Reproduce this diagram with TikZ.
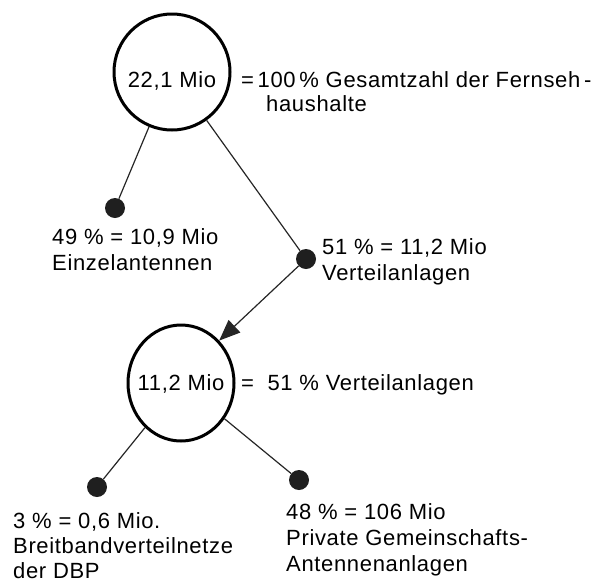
\documentclass[tikz,border=0pt]{standalone}
\usepackage{fontspec}
\setmainfont[LetterSpace=3]{Liberation Sans}
\usetikzlibrary{arrows.meta,shapes.geometric}
\begin{document}
\begin{tikzpicture}[x=1pt,y=-1pt,
  font=\fontsize{22}{26}\selectfont,
  bigring/.style={draw, line width=3pt, circle, minimum size=116pt, inner sep=0pt},
  bigoval/.style={draw, line width=3pt, ellipse, minimum width=106pt, minimum height=116pt, inner sep=0pt},
  blob/.style={fill=black!88, circle, minimum size=20pt, inner sep=0pt},
  conn/.style={line width=1.2pt, black!85},
  lbl/.style={anchor=base west, inner sep=0pt, align=left}]
\useasboundingbox (0,0) rectangle (607,584);
% top circle
\node[bigring] (c1) at (172,72) {};
\node[inner sep=0pt, anchor=base] (c1t) at (172,87) {22,1 Mio};
\node[lbl] (t1) at (241,87) {=\,100\,\% Gesamtzahl der Fernseh\,-};
\node[lbl] (t1b) at (266,111) {haushalte};
% level 1 dots
\node[blob] (d1) at (115,208) {};
\node[blob] (d2) at (306,259) {};
\draw[conn] (c1) -- (d1);
\draw[conn] (c1) -- (d2);
\node[lbl] (l1) at (52,244) {49 \% = 10,9 Mio};
\node[lbl] (l1b) at (52,270) {Einzelantennen};
\node[lbl] (l2) at (322,254) {51 \% = 11,2 Mio};
\node[lbl] (l2b) at (322,280) {Verteilanlagen};
% bottom circle
\node[bigoval] (c2) at (181,383) {};
\node[inner sep=0pt, anchor=base] (c2t) at (181,390) {11,2 Mio};
\node[lbl] (t2) at (241,390) {=\ \ 51 \% Verteilanlagen};
\draw[conn, -{Triangle[length=21pt, width=17pt]}] (d2) -- (c2.48);
% level 2 dots
\node[blob] (d3) at (97,487) {};
\node[blob] (d4) at (299,480) {};
\draw[conn] (c2) -- (d3);
\draw[conn] (c2) -- (d4);
\node[lbl] (l3) at (13,528) {3 \% = 0,6 Mio.};
\node[lbl] (l3b) at (13,553) {Breitbandverteilnetze};
\node[lbl] (l3c) at (13,578) {der DBP};
\node[lbl] (l4) at (286,519) {48 \% = 106 Mio};
\node[lbl] (l4b) at (286,545) {Private Gemeinschafts-};
\node[lbl] (l4c) at (286,571) {Antennenanlagen};
\end{tikzpicture}
\end{document}
